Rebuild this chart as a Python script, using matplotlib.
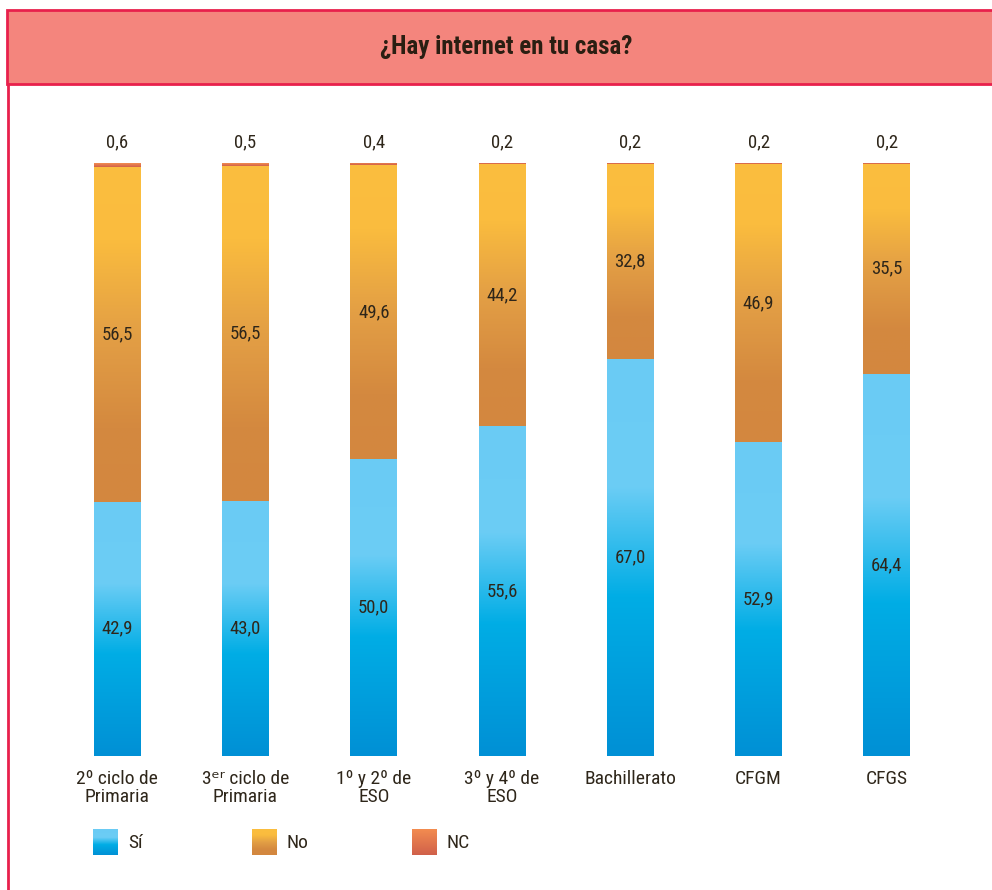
import matplotlib
matplotlib.use("Agg")
import matplotlib.pyplot as plt
from matplotlib.colors import LinearSegmentedColormap
from matplotlib.patches import Rectangle
import numpy as np

plt.rcParams['font.family'] = ['Roboto Condensed', 'DejaVu Sans']

# data
titulo = "¿Hay internet en tu casa?"
categorias = ["2º ciclo de\nPrimaria", "3ᵉʳ ciclo de\nPrimaria", "1º y 2º de\nESO",
              "3º y 4º de\nESO", "Bachillerato", "CFGM", "CFGS"]
si = [42.9, 43.0, 50.0, 55.6, 67.0, 52.9, 64.4]
no = [56.5, 56.5, 49.6, 44.2, 32.8, 46.9, 35.5]
nc = [0.6, 0.5, 0.4, 0.2, 0.2, 0.2, 0.2]
series = ["Sí", "No", "NC"]

txt = '#2e261a'
cmaps = {
    "Sí": LinearSegmentedColormap.from_list("si", [(0, '#0090d5'), (0.4, '#00ade5'), (0.68, '#6ccdf5'), (1, '#6acbf4')]),
    "No": LinearSegmentedColormap.from_list("no", [(0, '#d3873f'), (0.22, '#d4893f'), (0.5, '#e39f45'), (0.78, '#fabc3e'), (1, '#fbbe3f')]),
    "NC": LinearSegmentedColormap.from_list("nc", [(0, '#d0604a'), (1, '#f38c50')]),
}
grad = np.linspace(0, 1, 256).reshape(-1, 1)


def fmt(v):
    return "{:.1f}".format(v).replace('.', ',')


def gradient_bars(ax, bars, cmap):
    for b in bars:
        b.set_facecolor(cmap(0.3))
        x, y = b.get_x(), b.get_y()
        w, h = b.get_width(), b.get_height()
        ax.imshow(grad, cmap=cmap, origin='lower', aspect='auto',
                  extent=[x, x + w, y, y + h], zorder=2)


fig = plt.figure(figsize=(9.92, 8.9), dpi=100)

# decoration layer in pixel coordinates
deco = fig.add_axes([0, 0, 1, 1])
deco.axis('off')
deco.add_patch(Rectangle((7, 10), 1000, 74, facecolor='#f4857d', edgecolor='#e8204c', lw=2))
deco.plot([8, 8], [84, 892], color='#e8204c', lw=2)
deco.text(506, 47, titulo, ha='center', va='center', fontsize=18, fontweight='bold', color='#2a1e12')

# legend
leg_x = [93, 252, 412]
for lx, s in zip(leg_x, series):
    deco.imshow(grad, cmap=cmaps[s], origin='upper', aspect='auto',
                extent=[lx, lx + 25, 829, 855], zorder=3)
    deco.text(lx + 35, 843, s, ha='left', va='center', fontsize=14, color=txt)
deco.set_xlim(0, 992)
deco.set_ylim(890, 0)

ax = fig.add_axes([53 / 992, 1 - 756 / 890, 898 / 992, 593 / 890])
x = np.arange(len(categorias))
w = 0.366
b_si = ax.bar(x, si, w, zorder=1)
b_no = ax.bar(x, no, w, bottom=si, zorder=1)
b_nc = ax.bar(x, nc, w, bottom=np.array(si) + np.array(no), zorder=1)
gradient_bars(ax, b_si, cmaps["Sí"])
gradient_bars(ax, b_no, cmaps["No"])
gradient_bars(ax, b_nc, cmaps["NC"])

for i in x:
    ax.text(i, si[i] / 2, fmt(si[i]), ha='center', va='center', fontsize=13.5, color=txt, zorder=4)
    ax.text(i, si[i] + no[i] / 2, fmt(no[i]), ha='center', va='center', fontsize=13.5, color=txt, zorder=4)
    ax.text(i, 103.4, fmt(nc[i]), ha='center', va='center', fontsize=13.5, color=txt, zorder=4)

ax.set_xlim(-0.5, len(categorias) - 0.5)
ax.set_ylim(0, 100)
ax.set_xticks(x)
ax.set_xticklabels(categorias, fontsize=14, color=txt, linespacing=1.0)
ax.tick_params(axis='x', length=0, pad=10)
ax.set_yticks([])
for s in ax.spines.values():
    s.set_visible(False)
ax.patch.set_alpha(0)

fig.savefig("out.png", dpi=100)
